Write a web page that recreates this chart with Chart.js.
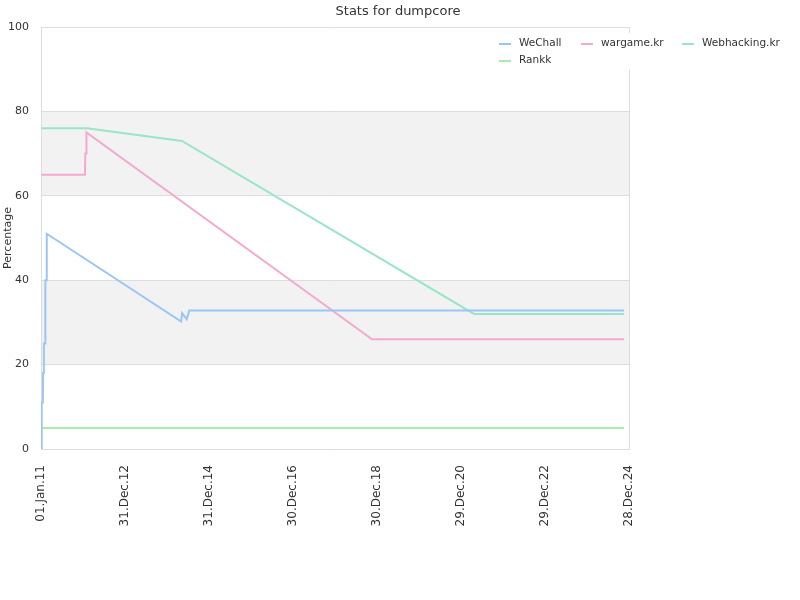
<!DOCTYPE html>
<html>
<head>
<meta charset="utf-8">
<script src="https://cdn.jsdelivr.net/npm/chart.js@4/dist/chart.umd.min.js"></script>
<style>
  html, body { margin: 0; padding: 0; background: #fff; }
  #wrap { position: relative; width: 800px; height: 600px; }
</style>
</head>
<body>
<div id="wrap"><canvas id="c" width="800" height="600"></canvas></div>
<script>
// ---- data (x = days since 01 Jan 2011) ----
const chartTitle = "Stats for dumpcore";
const yAxisTitle = "Percentage";
const seriesNames = ["WeChall", "wargame.kr", "Webhacking.kr", "Rankk"];
const seriesColors = ["#99c6f5", "#f4a9cf", "#98e6c6", "#a8eea8"];

const wechallDays   = [0, 4, 8, 16, 18, 24, 26, 36, 38, 45, 50, 1218, 1226, 1266, 1289, 5067];
const wechallValues = [0, 1.5, 11, 11, 18, 18, 25, 25, 40, 40, 51, 30.2, 32.2, 30.8, 32.8, 32.8];

const wargameDays   = [5, 382, 385, 392, 395, 2877, 5067];
const wargameValues = [65, 65, 70, 70, 75, 26, 26];

const webhackDays   = [5, 400, 1225, 3763, 5067];
const webhackValues = [76, 76, 73, 32, 32];

const rankkDays   = [8, 5067];
const rankkValues = [5, 5];

const xMin = 0, xMax = 5110, xStep = 730;
const yTicks = [0, 20, 40, 60, 80, 100];
const bandRanges = [[20, 40], [60, 80]];
const monthNames = ["Jan","Feb","Mar","Apr","May","Jun","Jul","Aug","Sep","Oct","Nov","Dec"];

function pts(xs, ys) { return xs.map((x, i) => ({ x: x, y: ys[i] })); }
function fmtDay(v) {
  const d = new Date(Date.UTC(2011, 0, 1) + v * 86400000);
  const dd = String(d.getUTCDate()).padStart(2, "0");
  const yy = String(d.getUTCFullYear() % 100).padStart(2, "0");
  return dd + "." + monthNames[d.getUTCMonth()] + "." + yy;
}

const seriesData = [
  pts(wechallDays, wechallValues),
  pts(wargameDays, wargameValues),
  pts(webhackDays, webhackValues),
  pts(rankkDays, rankkValues)
];

const FONT = "'DejaVu Sans', Verdana, sans-serif";

const decor = {
  id: "decor",
  beforeDraw(chart) {
    const { ctx, chartArea: a, scales } = chart;
    ctx.save();
    ctx.fillStyle = "#f2f2f2";
    bandRanges.forEach(([lo, hi]) => {
      const y1 = scales.y.getPixelForValue(hi), y2 = scales.y.getPixelForValue(lo);
      ctx.fillRect(a.left, y1, a.right - a.left, y2 - y1);
    });
    ctx.restore();
  },
  afterDraw(chart) {
    const { ctx, chartArea: a } = chart;
    ctx.save();
    // right frame line
    ctx.strokeStyle = "#dddddd";
    ctx.lineWidth = 1;
    ctx.beginPath();
    ctx.moveTo(Math.round(a.right) + 0.5, a.top);
    ctx.lineTo(Math.round(a.right) + 0.5, a.bottom);
    ctx.stroke();
    // title
    ctx.fillStyle = "#333";
    ctx.font = "13px " + FONT;
    ctx.textAlign = "center";
    ctx.textBaseline = "middle";
    ctx.fillText(chartTitle, 398, 12);
    // legend
    ctx.fillStyle = "#ffffff";
    ctx.fillRect(490, 33, 310, 37);
    const items = [
      { x: 499, y: 44 }, { x: 581, y: 44 }, { x: 682, y: 44 }, { x: 499, y: 61 }
    ];
    ctx.font = "10.5px " + FONT;
    ctx.textAlign = "left";
    items.forEach((it, i) => {
      ctx.strokeStyle = seriesColors[i];
      ctx.lineWidth = 2;
      ctx.beginPath();
      ctx.moveTo(it.x, it.y);
      ctx.lineTo(it.x + 12, it.y);
      ctx.stroke();
      ctx.fillStyle = "#333";
      ctx.fillText(seriesNames[i], it.x + 20, it.y - 1);
    });
    ctx.restore();
  }
};

new Chart(document.getElementById("c"), {
  type: "line",
  data: {
    datasets: seriesNames.map((n, i) => ({
      label: n,
      data: seriesData[i],
      borderColor: seriesColors[i],
      backgroundColor: seriesColors[i],
      borderWidth: 2,
      pointRadius: 0,
      tension: 0,
      fill: false
    }))
  },
  options: {
    responsive: false,
    animation: false,
    layout: { padding: { top: 27, right: 171, left: 0, bottom: 0 } },
    plugins: { legend: { display: false }, title: { display: false }, tooltip: { enabled: false } },
    scales: {
      x: {
        type: "linear",
        min: xMin, max: xMax,
        afterFit(s) { s.height = 151; },
        afterBuildTicks(s) {
          const t = [];
          for (let v = xMin; v <= xMax; v += xStep) t.push({ value: v });
          s.ticks = t;
        },
        grid: { display: false, drawTicks: false },
        border: { display: true, color: "#dddddd" },
        ticks: {
          autoSkip: false, minRotation: 90, maxRotation: 90,
          padding: 16, color: "#333", font: { family: FONT, size: 12 },
          callback: (v) => fmtDay(v)
        }
      },
      y: {
        min: 0, max: 100,
        afterFit(s) { s.width = 41; },
        afterBuildTicks(s) { s.ticks = yTicks.map(v => ({ value: v })); },
        grid: { color: "#dddddd", drawTicks: false },
        border: { display: true, color: "#dddddd" },
        title: { display: true, text: yAxisTitle, color: "#333", font: { family: FONT, size: 11 }, padding: { top: 2, bottom: 0 } },
        ticks: { padding: 12, color: "#333", font: { family: FONT, size: 11 } }
      }
    }
  },
  plugins: [decor]
});
</script>
</body>
</html>
